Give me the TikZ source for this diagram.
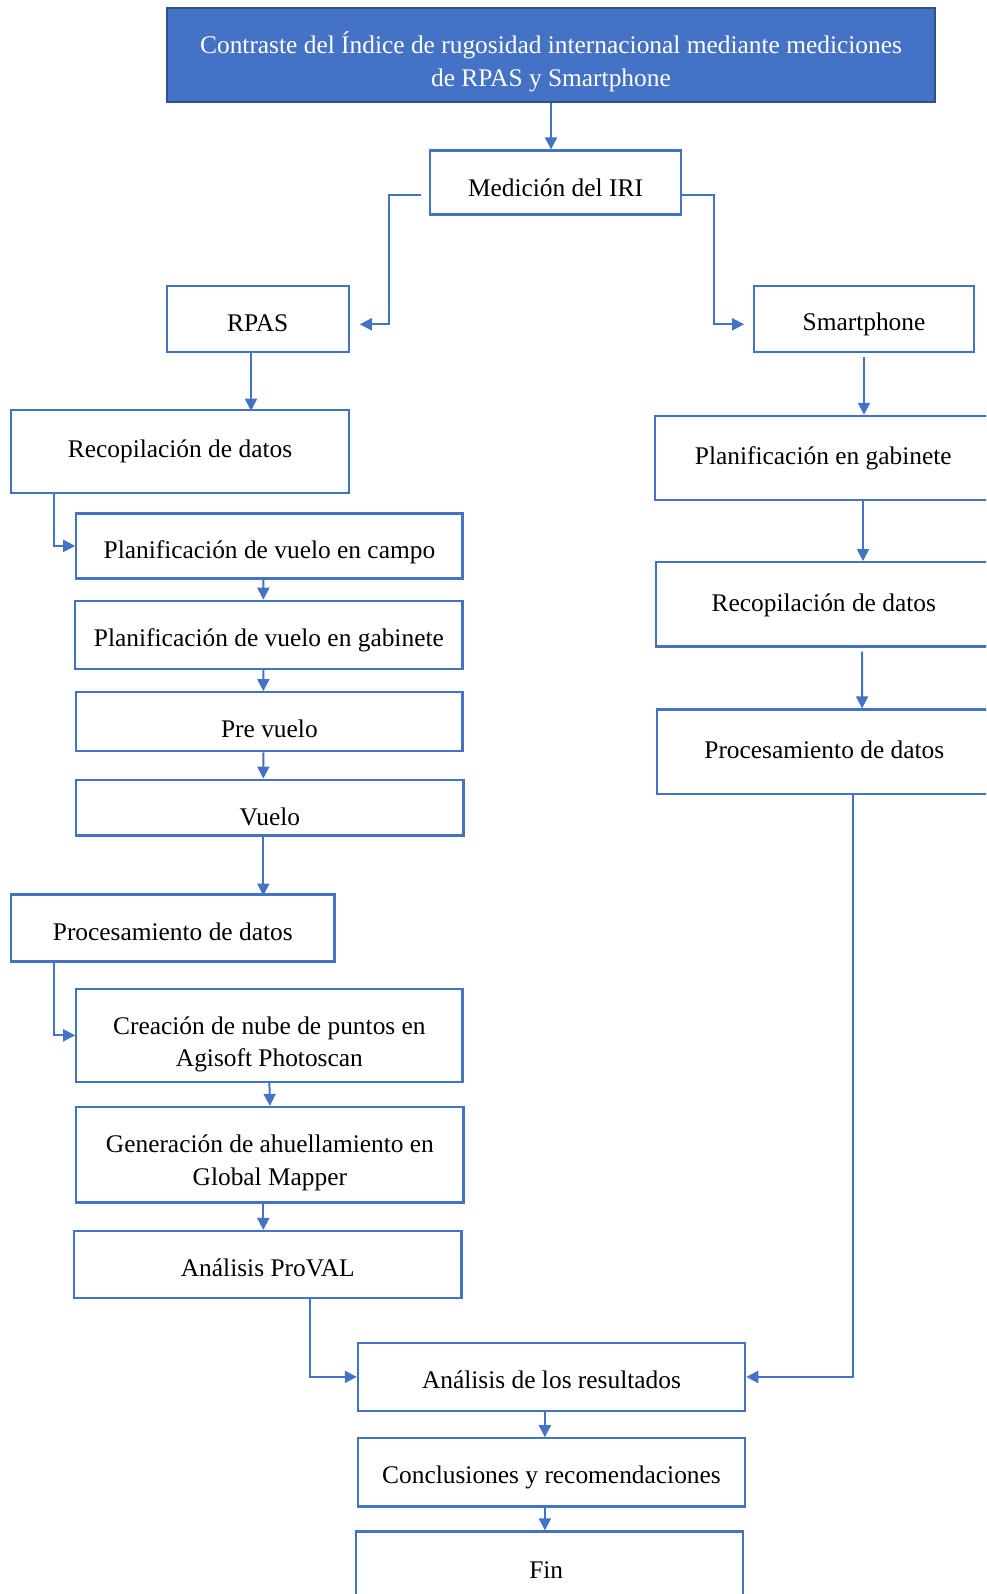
\documentclass[tikz,border=0pt]{standalone}
\usepackage{fontspec}
\setmainfont{Liberation Serif}
\usetikzlibrary{arrows.meta}
\definecolor{azul}{HTML}{4472C4}
\definecolor{azulosc}{HTML}{2F528F}
\tikzset{
    caja/.style={draw=azul, line width=1.1pt, inner sep=0pt},
    texto/.style={align=center, inner sep=0pt, font=\fontsize{12.7}{16.3}\selectfont},
    flecha/.style={draw=azul, line width=1pt, -{Triangle[length=6pt,width=6pt]}},
}
\begin{document}
\begin{tikzpicture}[x=0.5pt, y=-0.5pt]
    \useasboundingbox (0,0) rectangle (986,1594);
    \clip (0,0) rectangle (986,1594);
    \node[caja, fill=azul, draw=azulosc, minimum width=384.2pt, minimum height=46.8pt,
        label={[texto, text=white, shift={(0,7)}]center:Contraste del Índice de rugosidad internacional mediante mediciones\\de RPAS y Smartphone}]
        (titulo) at (551,54.9) {};
    \foreach \x/\y/\w/\h/\dy/\name/\txt in {
        555.5/182.5/251/64/5/med/{Medición del IRI},
        257.7/318.7/182/66/5/rpas/{RPAS},
        864/318.7/219.6/66/6/smart/{Smartphone},
        180/451.3/337.5/83.4/0/recL/{Recopilación de datos},
        269.4/545.9/386.3/65/6/campo/{Planificación de vuelo en campo},
        268.9/634.8/387.3/68.1/5/gab/{Planificación de vuelo en gabinete},
        269.4/721.7/386.3/59/7/pre/{Pre vuelo},
        269.9/807.6/387.3/55.9/9/vuelo/{Vuelo},
        172.8/928/323.2/67.1/4/procL/{Procesamiento de datos},
        269.4/1035.3/386.3/92.6/9/crea/{Creación de nube de puntos en\\Agisoft Photoscan},
        269.9/1154.7/387.3/95.5/8/gen/{Generación de ahuellamiento en\\Global Mapper},
        267.8/1264.5/387.3/67/3/proval/{Análisis ProVAL},
        823.3/458/337.4/84.3/0/planR/{Planificación en gabinete},
        823.8/604.3/336.4/84.4/1/recR/{Recopilación de datos},
        824.3/751.7/335.3/84.4/-2/procR/{Procesamiento de datos},
        551.5/1376.9/387.3/68.1/3/res/{Análisis de los resultados},
        551.5/1472.4/387.3/68.2/5/concl/{Conclusiones y recomendaciones},
        549.4/1566/387.2/69/4/fin/{Fin}
     } {
        \node[caja, minimum width=\w*0.5pt, minimum height=\h*0.5pt,
            label={[texto, shift={(0,\dy)}]center:\txt}] (\name) at (\x,\y) {};
    }
    \draw[flecha] (titulo.south) -- (titulo.south |- med.north);
    \draw[flecha] ([shift={(-8,12.7)}]med.west) -- ++(-31.6,0) |- ([shift={(10,5.6)}]rpas.east);
    \draw[flecha] ([shift={(0,12.7)}]med.east) -- ++(31.6,0) |- ([shift={(-9,5.6)}]smart.west);

    % RPAS
    \draw[flecha] ([xshift=-3.35pt]rpas.south) -- ++(0,57.9);
    \draw[flecha] ([xshift=21.85pt]recL.south west) |- (campo.west);
    \draw[flecha] ([xshift=-3pt]campo.south) -- ([xshift=-2.8pt]gab.north);
    \draw[flecha] ([xshift=-2.8pt]gab.south) -- ([xshift=-3pt]pre.north);
    \draw[flecha] ([xshift=-3pt]pre.south) -- ([xshift=-3.3pt]vuelo.north);
    \draw[flecha] ([xshift=-3.3pt]vuelo.south) -- ++(0,58.9);
    \draw[flecha] ([xshift=21.85pt]procL.south west) |- (crea.west);
    \draw[flecha] (crea.south) -- (gen.north);
    \draw[flecha] ([xshift=-3.3pt]gen.south) -- ([xshift=-2.25pt]proval.north);
    \draw[flecha] ([xshift=21.1pt]proval.south) |- (res.west);

    % Smartphone
    \draw[flecha, shorten <=2pt] (smart.south) -- (smart.south |- planR.north);
    \draw[flecha] ([xshift=19.85pt]planR.south) -- ([xshift=19.6pt]recR.north);
    \draw[flecha, shorten <=2pt] ([xshift=19.1pt]recR.south) -- ([xshift=18.9pt]procR.north);
    \draw[flecha] ([xshift=14.3pt]procR.south) |- (res.east);

    \draw[flecha] ([xshift=-3.3pt]res.south) -- ([xshift=-3.3pt]concl.north);
    \draw[flecha] ([xshift=-3.3pt]concl.south) -- ([xshift=-2.25pt]fin.north);
\end{tikzpicture}
\end{document}
